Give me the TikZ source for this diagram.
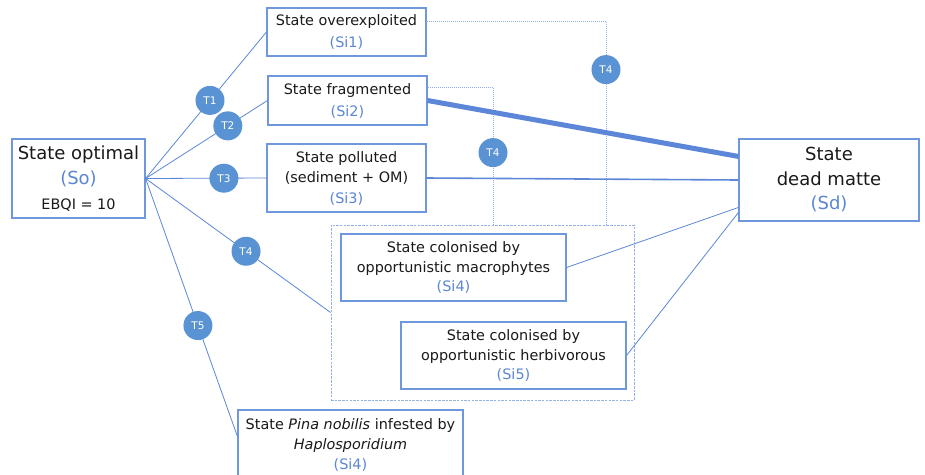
\documentclass[tikz,border=0pt]{standalone}
\usepackage{fontspec}
\setmainfont{DejaVu Sans}
\usetikzlibrary{calc}
\definecolor{boxblue}{HTML}{6F97DC}
\definecolor{txtblue}{HTML}{5B86D6}
\definecolor{circblue}{HTML}{5A93D3}
\definecolor{lineblue}{HTML}{5C87D8}
\definecolor{dotblue}{HTML}{94B2E8}
\definecolor{txtblack}{HTML}{1A1A1A}
\begin{document}
\begin{tikzpicture}[x=1pt,y=-1pt,
 state/.style={draw=boxblue, line width=1.1pt, fill=white, align=center, inner sep=0pt, font=\fontsize{14.4}{20.5}\selectfont, text=txtblack},
 bigstate/.style={state, font=\fontsize{18}{25}\selectfont},
 tlabel/.style={circle, fill=circblue, text=white, minimum size=29pt, inner sep=0pt, font=\fontsize{10.5}{11}\selectfont},
 conn/.style={draw=lineblue, line width=0.8pt},
 dotconn/.style={draw=dotblue, line width=0.9pt, dash pattern=on 1pt off 1pt},
 grpbox/.style={draw=dotblue, line width=0.8pt, dash pattern=on 2.5pt off 1.2pt, inner sep=0pt}
]
\clip (0,0) rectangle (925,474);
\fill[white] (0,0) rectangle (925,474);

% group box
\node[grpbox, minimum width=303pt, minimum height=175pt] (grp) at (482.5,312.5) {};

% state nodes
\node[bigstate, minimum width=133pt, minimum height=79pt] (So) at (78.5,178.5)
 {State optimal\\\textcolor{txtblue}{(So)}\\{\fontsize{14.4}{20}\selectfont EBQI = 10}};
\node[state, font=\fontsize{14.4}{22}\selectfont, minimum width=159pt, minimum height=48pt] (Si1) at (346.5,32)
 {State overexploited\\\textcolor{txtblue}{(Si1)}};
\node[state, font=\fontsize{14.4}{22}\selectfont, minimum width=159pt, minimum height=49pt] (Si2) at (347.5,100.5)
 {State fragmented\\\textcolor{txtblue}{(Si2)}};
\node[state, minimum width=159pt, minimum height=68pt] (Si3) at (346.5,178)
 {State polluted\\(sediment + OM)\\\textcolor{txtblue}{(Si3)}};
\node[bigstate, font=\fontsize{18}{24.5}\selectfont, minimum width=180pt, minimum height=82pt] (Sd) at (829,180)
 {State\\dead matte\\\textcolor{txtblue}{(Sd)}};
\node[state, font=\fontsize{14.4}{19.5}\selectfont, minimum width=225pt, minimum height=67pt] (Si4) at (453.5,267.5)
 {State colonised by\\opportunistic macrophytes\\\textcolor{txtblue}{(Si4)}};
\node[state, font=\fontsize{14.4}{19.5}\selectfont, minimum width=225pt, minimum height=67pt] (Si5) at (513.5,355.5)
 {State colonised by\\opportunistic herbivorous\\\textcolor{txtblue}{(Si5)}};
\node[state, font=\fontsize{14.4}{20}\selectfont, minimum width=225pt, minimum height=70pt] (Pina) at (350.5,445)
 {State \textit{Pina nobilis} infested by\\\textit{Haplosporidium}\\\textcolor{txtblue}{(Si4)}};

% dotted T4 connectors
\draw[dotconn] ($(Si1.north east)+(0,14)$) -| ($(grp.north)+(123.5,0)$);
\draw[dotconn] ($(Si2.north east)+(0,12)$) -| ($(grp.north)+(10.5,0)$);
\node[tlabel] (T4a) at ($(grp.north)+(123.5,-155)$) {T4};
\node[tlabel] (T4b) at ($(grp.north)+(10.5,-72)$) {T4};

% connectors to dead matte
\draw[lineblue, line width=5pt] (Si2.east) -- ($(Sd.north west)+(0,18)$);
\draw[lineblue, line width=1.6pt] (Si3.east) -- (Sd.west);
\draw[conn] (Si4.east) -- ($(Sd.north west)+(0,69)$);
\draw[conn] (Si5.east) -- ($(Sd.north west)+(0,74)$);

% transitions from optimal
\draw[conn] (So.east) -- (Si1.west) node[tlabel, pos=0.533] (T1) {T1};
\draw[conn] (So.east) -- (Si2.west) node[tlabel, pos=0.675] (T2) {T2};
\draw[conn] (So.east) -- (Si3.west) node[tlabel, pos=0.648] (T3) {T3};
\draw[conn] (So.east) -- (grp.west) node[tlabel, pos=0.543] (T4c) {T4};
\draw[conn] (So.east) -- ($(Pina.north west)+(0,27)$) node[tlabel, pos=0.57] (T5) {T5};
\end{tikzpicture}
\end{document}
